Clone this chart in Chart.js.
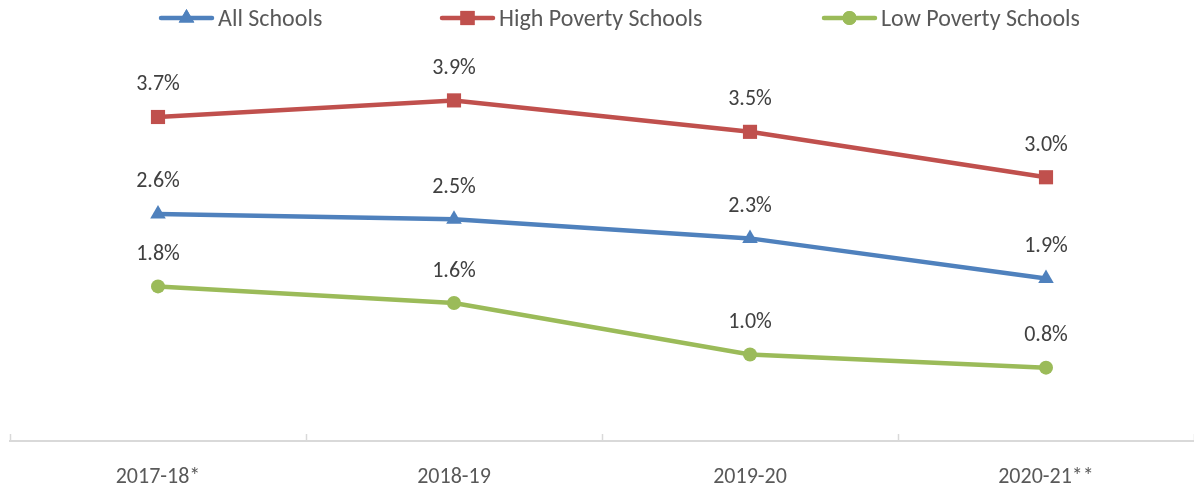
<!DOCTYPE html>
<html>
<head>
    <title>Dropout rates</title>
    <meta charset="UTF-8">
    <style>
        body { margin: 0; background: #fff; }
        #wrap { position: relative; width: 1194px; height: 486px; }
        .legItem {
            position: absolute; top: 6px; display: flex; align-items: center;
            font-family: Carlito, Lato, sans-serif; font-size: 24px; color: #595959;
            line-height: 24px; white-space: nowrap;
        }
        .legItem canvas { margin-right: 3px; }
    </style>
</head>
<body>
<div id="wrap">
    <canvas id="myChart" width="1194" height="486"></canvas>
</div>

<script src="https://cdn.jsdelivr.net/npm/chart.js@4.4.1/dist/chart.umd.min.js"></script>
<script>
    var years = ['2017-18*', '2018-19', '2019-20', '2020-21**'];
    var allSchools = [2.60, 2.54, 2.32, 1.86];
    var highPoverty = [3.71, 3.90, 3.54, 3.02];
    var lowPoverty = [1.77, 1.58, 0.99, 0.84];

    var seriesNames = ['All Schools', 'High Poverty Schools', 'Low Poverty Schools'];
    var seriesColors = ['#4F81BD', '#C0504D', '#9BBB59'];
    var seriesMarkers = ['triangle', 'rect', 'circle'];
    var markerRadius = [9, 10, 7];
    var legendLeft = [161, 442, 824];

    var fontFamily = 'Carlito, Lato, sans-serif';

    // value labels above every point
    var valueLabels = {
        id: 'valueLabels',
        afterDatasetsDraw: function (chart) {
            var ctx = chart.ctx;
            ctx.save();
            ctx.font = '22px ' + fontFamily;
            ctx.fillStyle = '#404040';
            ctx.textAlign = 'center';
            ctx.textBaseline = 'middle';
            chart.data.datasets.forEach(function (ds, i) {
                chart.getDatasetMeta(i).data.forEach(function (pt, j) {
                    ctx.fillText(ds.data[j].toFixed(1) + '%', pt.x, pt.y - 32);
                });
            });
            ctx.restore();
        }
    };

    // small upward tick marks between the categories
    var tickMarks = {
        id: 'tickMarks',
        afterDraw: function (chart) {
            var xs = chart.scales.x;
            var ctx = chart.ctx;
            ctx.save();
            ctx.strokeStyle = '#D9D9D9';
            ctx.lineWidth = 1.5;
            for (var i = 0; i <= years.length; i++) {
                var px = Math.round(xs.getPixelForValue(i - 0.5)) + 0.5;
                ctx.beginPath();
                ctx.moveTo(px, xs.top);
                ctx.lineTo(px, xs.top - 7);
                ctx.stroke();
            }
            ctx.restore();
        }
    };

    function makeDataset(label, data, i) {
        return {
            label: label,
            data: data,
            borderColor: seriesColors[i],
            backgroundColor: seriesColors[i],
            borderWidth: 4.5,
            pointStyle: seriesMarkers[i],
            pointRadius: markerRadius[i],
            pointBorderWidth: 0,
            fill: false,
            tension: 0
        };
    }

    function drawLegendMarker(i) {
        var c = document.createElement('canvas');
        c.width = 57;
        c.height = 20;
        var g = c.getContext('2d');
        g.strokeStyle = seriesColors[i];
        g.fillStyle = seriesColors[i];
        g.lineWidth = 4.5;
        g.lineCap = 'round';
        g.beginPath();
        g.moveTo(3, 10);
        g.lineTo(54, 10);
        g.stroke();
        Chart.helpers.drawPoint(g, {pointStyle: seriesMarkers[i], radius: markerRadius[i], borderWidth: 0}, 28.5, 10);
        g.fill();
        return c;
    }

    var ctx = document.getElementById('myChart');
    var myChart = new Chart(ctx, {
        type: 'line',
        data: {
            labels: years,
            datasets: [
                makeDataset(seriesNames[0], allSchools, 0),
                makeDataset(seriesNames[1], highPoverty, 1),
                makeDataset(seriesNames[2], lowPoverty, 2)
            ]
        },
        options: {
            responsive: false,
            animation: false,
            // tick padding is counted twice in the axis height, so pull the bottom back
            layout: {autoPadding: false, padding: {top: 48, left: 10, right: 0, bottom: -27}},
            plugins: {
                legend: {display: false},
                tooltip: {enabled: false}
            },
            scales: {
                x: {
                    offset: true,
                    grid: {display: true, drawOnChartArea: false, drawTicks: false, offset: true},
                    border: {display: true, color: '#D9D9D9', width: 2},
                    ticks: {
                        color: '#595959',
                        padding: 25,
                        font: {family: fontFamily, size: 22, lineHeight: 1}
                    }
                },
                y: {
                    display: false,
                    min: 0,
                    max: 4.5
                }
            }
        },
        plugins: [valueLabels, tickMarks]
    });

    // legend: line + marker, then the series name
    var wrap = document.getElementById('wrap');
    for (var i = 0; i < seriesNames.length; i++) {
        var item = document.createElement('div');
        item.className = 'legItem';
        item.style.left = (legendLeft[i] - 3) + 'px';
        item.appendChild(drawLegendMarker(i));
        var span = document.createElement('span');
        span.textContent = seriesNames[i];
        item.appendChild(span);
        wrap.appendChild(item);
    }
</script>
</body>
</html>
